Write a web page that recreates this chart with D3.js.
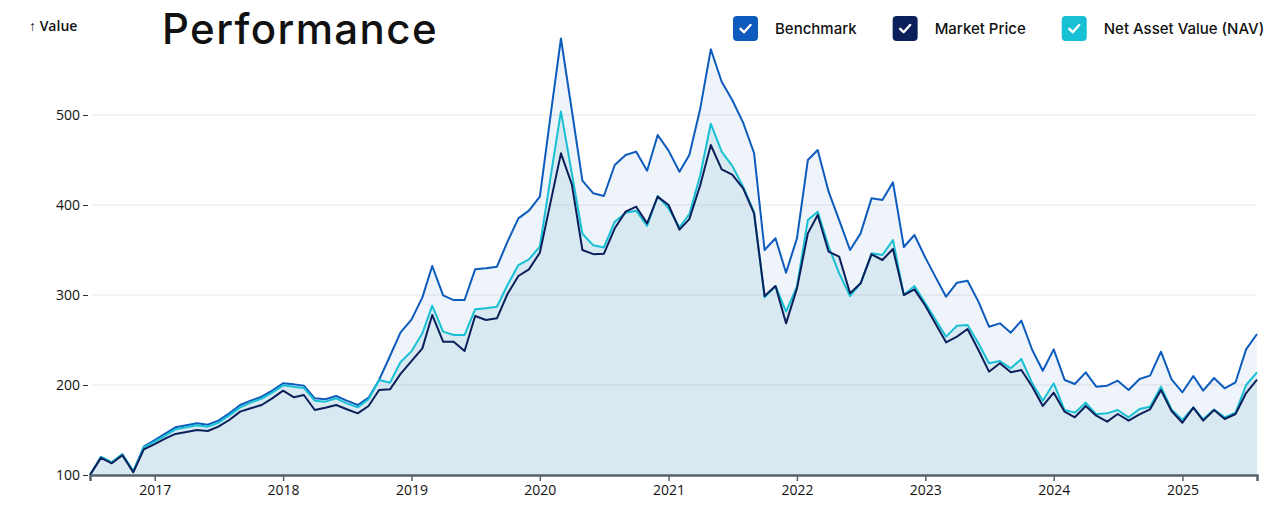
<!DOCTYPE html>
<html>
<head>
<meta charset="utf-8">
<script src="https://cdn.jsdelivr.net/npm/d3@7"></script>
<style>
    body { margin: 0; background: #fff; }
    svg { display: block; }
</style>
</head>
<body>
<svg id="chart"></svg>
<script>
// monthly points, first one is July 2016
const firstMonth = "2016-07"

const seriesNames = ["Benchmark", "Market Price", "Net Asset Value (NAV)"]
const seriesColors = ["#0d5bbd", "#0b1f5a", "#17c0d4"]

const benchmark = [
    100, 120, 114, 123, 104, 131.5, 138.9, 146.3, 153, 155.2, 157.4, 155.9,
    160.4, 168.5, 177.8, 182.6, 187, 193.7, 201.9, 200.7, 199.3, 185.2, 184.1, 187.8,
    182.6, 177.8, 185.9, 205.6, 232.2, 258.4, 272.6, 297.4, 332.2, 299.6, 294.4, 294.4,
    328.5, 329.6, 331.5, 359.3, 385.2, 393.7, 409.3, 501, 585, 505, 427, 413,
    410, 444.4, 455.6, 459.3, 438.1, 477.8, 460.4, 437, 455.6, 507, 573, 537,
    516.7, 491.5, 457.8, 350, 363, 324.8, 363, 450, 461.1, 414.8, 383.3, 350,
    368.5, 407.4, 405.6, 425.2, 353.3, 366.7, 341.5, 318.5, 298.1, 313.7, 315.9, 292.6,
    264.8, 268.5, 258.1, 271.5, 238.9, 215.9, 239.6, 205.6, 201.1, 214.1, 198.1, 199.3,
    204.8, 194.4, 206.7, 210.4, 237, 206.3, 191.9, 210, 193.7, 207.8, 196.3, 203,
    239.6, 256.7
]

const marketPrice = [
    100, 119, 113, 122, 103, 128.5, 134.4, 140.7, 145.6, 147.8, 150, 148.9,
    153.7, 161.1, 170.4, 174.1, 177.8, 185.2, 193.7, 186.3, 188.9, 172.2, 174.8, 177.8,
    173, 168.5, 176.7, 194.4, 195.2, 212.4, 226.5, 240.7, 277.8, 248.1, 248.1, 237.8,
    276.7, 272.2, 274.1, 301.1, 321.1, 328.5, 347, 404, 457.4, 423, 350, 345.4,
    345.7, 374.1, 392.6, 398.1, 379.6, 409.3, 400, 372.6, 384.3, 422, 466.7, 439.5,
    433.8, 418.5, 390.7, 298.9, 310, 268.5, 307.4, 368.5, 388.9, 348.1, 342.6, 301.9,
    313, 345.2, 338.9, 351.1, 300, 306.3, 288, 266.6, 247.4, 253.7, 262.2, 238.9,
    214.8, 224.1, 214.1, 216.7, 198.1, 176.7, 191.5, 170.4, 164.1, 176.7, 165.9, 159.3,
    167.8, 160.4, 167.4, 173, 194.4, 171.1, 158.1, 174.8, 160.4, 172.2, 162.2, 167.8,
    191.1, 205.9
]

const nav = [
    100, 120, 114, 123, 104, 130.7, 137, 144.1, 150.7, 153, 155.2, 153.7,
    158.1, 166.3, 175.2, 180.4, 184.8, 191.5, 199.6, 198.1, 196.7, 182.6, 181.5, 185.2,
    179.6, 175.2, 184.1, 205.6, 202.6, 225.5, 237.4, 257.4, 288.1, 259.3, 255.6, 255.6,
    284.1, 285.2, 287, 311.1, 333.3, 339.6, 353.7, 432, 504, 435, 368, 355.2,
    352.8, 381.5, 391.5, 393.7, 376.7, 410, 396.3, 375.3, 389.8, 433, 490.3, 459.3,
    443.5, 420.4, 392, 297.4, 310, 281.5, 309.3, 383.3, 392.6, 353.7, 324.1, 298.9,
    313, 346.3, 344.4, 361.1, 300, 310, 290.7, 271.3, 253.7, 265.9, 266.7, 246.3,
    224.1, 226.7, 218.5, 228.9, 201.9, 182.6, 201.9, 172.2, 169.3, 180.4, 167.4, 168.5,
    172.2, 164.1, 173.3, 175.9, 198.1, 172.8, 161.1, 175.2, 161.9, 172.8, 164.1, 169.3,
    200, 214.1
]

const yTicks = [100, 200, 300, 400, 500]

// ------------------- SVG ----------------------
const svgW = 1280, svgH = 512
const padLeft = 90, padRight = 1257, padTop = 25, padBottom = 475

const svg = d3.select("#chart")
    .attr("width", svgW)
    .attr("height", svgH)
;

const start = d3.timeParse("%Y-%m")(firstMonth)
const months = benchmark.map((d, i) => d3.timeMonth.offset(start, i))

const xScale = d3.scaleTime()
    .domain(d3.extent(months))
    .range([padLeft, padRight])
;

const yScale = d3.scaleLinear()
    .domain([100, 600])
    .range([padBottom, padTop])
;

const rows = months.map((m, i) => ({ date: m, bench: benchmark[i], market: marketPrice[i], nav: nav[i] }))

const areaOf = key => d3.area()
    .x(d => xScale(d.date))
    .y0(yScale(100))
    .y1(d => yScale(d[key]))
;
const lineOf = key => d3.line()
    .x(d => xScale(d.date))
    .y(d => yScale(d[key]))
;

// fills
svg.append("path").datum(rows).attr("d", areaOf("bench")).attr("fill", "#eff4fa")
svg.append("path").datum(rows).attr("d", areaOf("nav")).attr("fill", "#d9e9f2")
svg.append("path").datum(rows).attr("d", areaOf("market")).attr("fill", "#d9e9f2")

// grid lines on top of the fills
svg.append("g")
    .selectAll("line")
    .data(yTicks.filter(t => t > 100))
    .enter()
    .append("line")
    .attr("x1", padLeft + 2)
    .attr("x2", padRight)
    .attr("y1", d => yScale(d))
    .attr("y2", d => yScale(d))
    .attr("stroke", "#000")
    .attr("stroke-opacity", 0.09)
    .attr("stroke-width", 1)
;

// lines, benchmark first so the others sit on top
const lineKeys = ["bench", "nav", "market"]
const lineColors = { bench: seriesColors[0], market: seriesColors[1], nav: seriesColors[2] }
for (let k of lineKeys) {
    svg.append("path")
        .datum(rows)
        .attr("d", lineOf(k))
        .attr("fill", "none")
        .attr("stroke", lineColors[k])
        .attr("stroke-width", 2)
        .attr("stroke-linejoin", "round")
    ;
}

// y axis
const yAxis = svg.append("g")
    .attr("transform", `translate(${padLeft},0)`)
    .call(d3.axisLeft(yScale).tickValues(yTicks).tickSize(5).tickPadding(5))
;
yAxis.select(".domain").remove()
yAxis.selectAll(".tick line").attr("stroke", "#333").attr("transform", "translate(-2,0)")
yAxis.selectAll("text")
    .attr("font-family", "'Open Sans', sans-serif")
    .attr("font-size", 14)
    .attr("fill", "#111")
;

// x axis
const xAxis = svg.append("g")
    .attr("transform", `translate(0,${padBottom})`)
    .call(d3.axisBottom(xScale).ticks(d3.timeYear.every(1)).tickFormat(d3.timeFormat("%Y")).tickSize(6).tickPadding(4))
;
xAxis.select(".domain").attr("stroke", "#56636d").attr("stroke-width", 2.5)
xAxis.selectAll(".tick line").attr("stroke", "#56636d").attr("stroke-width", 1.5)
xAxis.selectAll("text")
    .attr("font-family", "'Open Sans', sans-serif")
    .attr("font-size", 14)
    .attr("fill", "#111")
;

// y label + title
svg.append("text")
    .attr("x", 29)
    .attr("y", 31)
    .attr("font-family", "'Open Sans', sans-serif")
    .attr("font-size", 14)
    .attr("font-weight", 600)
    .attr("fill", "#111")
    .text("↑ Value")
;

svg.append("text")
    .attr("x", 162)
    .attr("y", 44)
    .attr("font-family", "Inter, sans-serif")
    .attr("font-size", 42)
    .attr("font-weight", 500)
    .attr("letter-spacing", 1.4)
    .attr("fill", "#111")
    .text("Performance")
;

// legend
let lx = 733
seriesNames.forEach((name, i) => {
    const g = svg.append("g").attr("transform", `translate(${lx},16)`)
    g.append("rect")
        .attr("width", 25)
        .attr("height", 25)
        .attr("rx", 4)
        .attr("fill", seriesColors[i])
    ;
    g.append("path")
        .attr("d", "M7.5,12.8 L11,16.2 L17.5,9")
        .attr("fill", "none")
        .attr("stroke", "#fff")
        .attr("stroke-width", 2.4)
        .attr("stroke-linecap", "round")
        .attr("stroke-linejoin", "round")
    ;
    const t = g.append("text")
        .attr("x", 42)
        .attr("y", 18)
        .attr("font-family", "Inter, sans-serif")
        .attr("font-size", 15)
        .attr("font-weight", 500)
        .attr("fill", "#111")
        .text(name)
    ;
    lx += 42 + t.node().getComputedTextLength() + 36
})
</script>
</body>
</html>
